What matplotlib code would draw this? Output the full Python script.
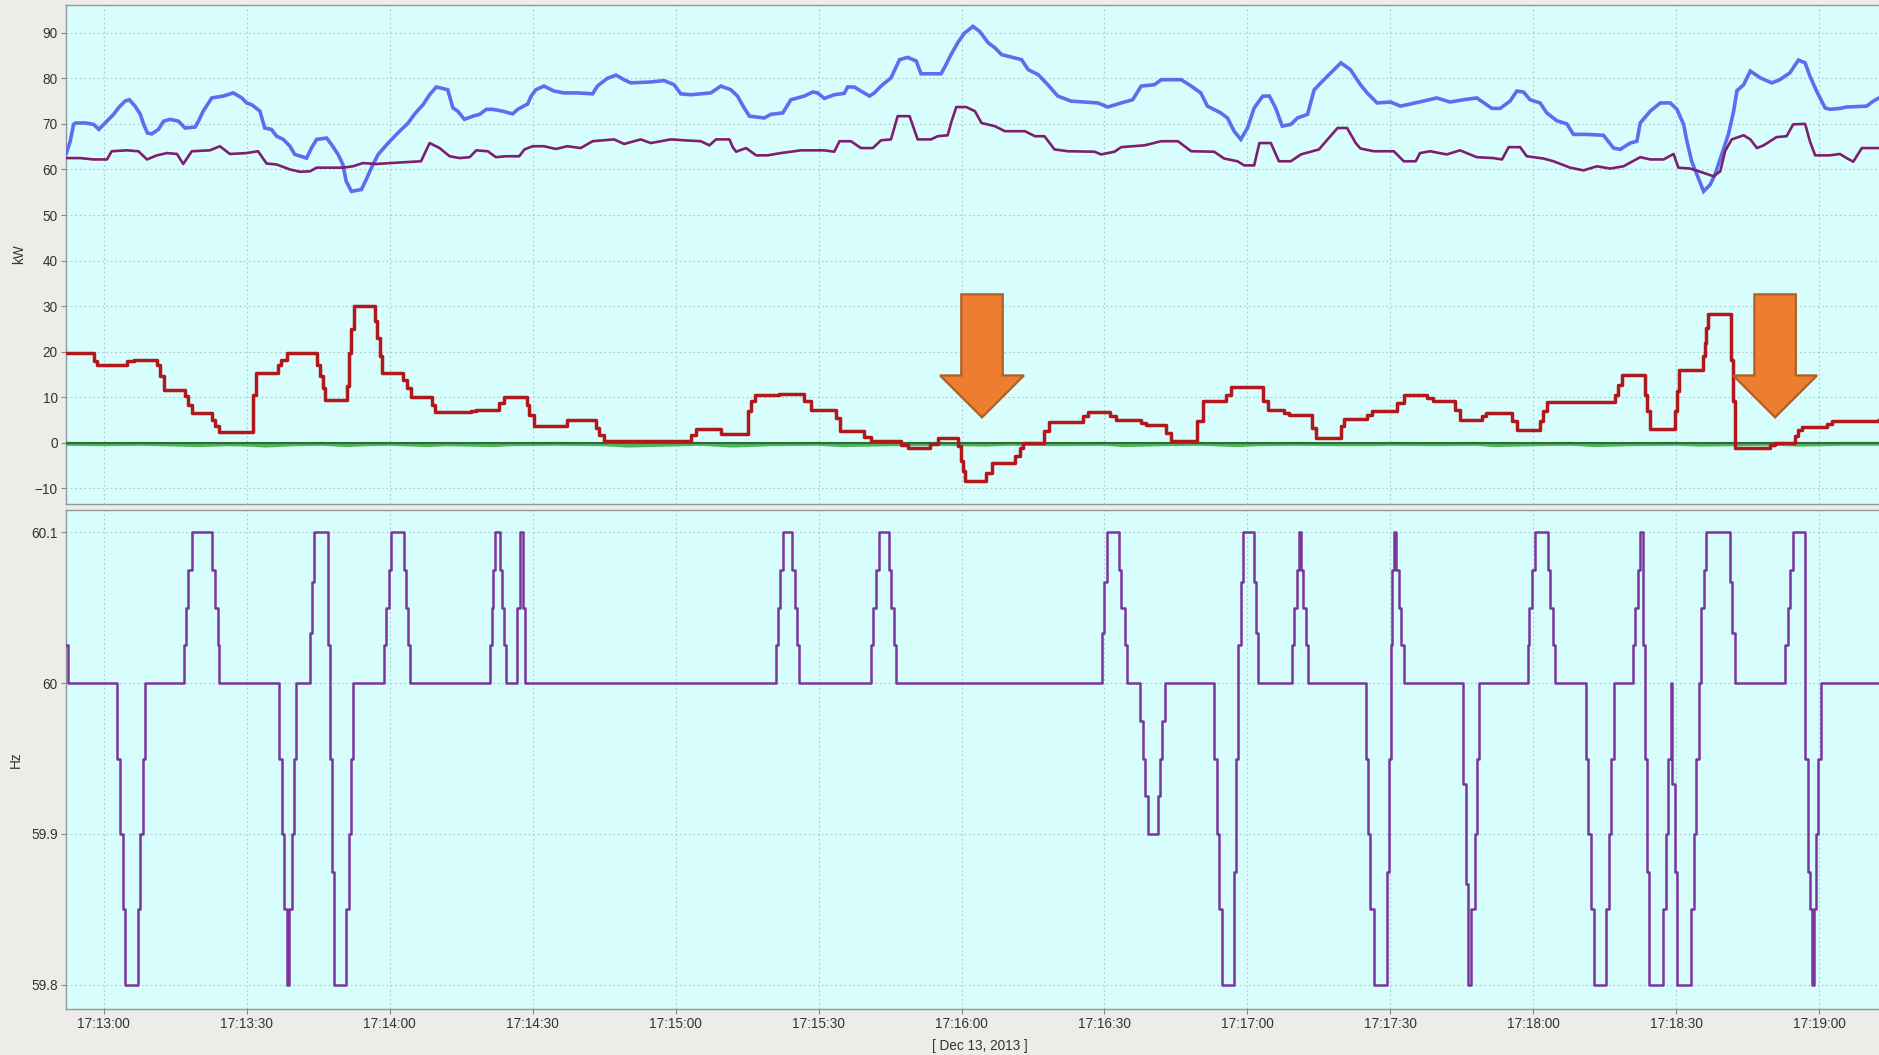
import matplotlib
matplotlib.use("Agg")
import matplotlib.pyplot as plt
from matplotlib.patches import Polygon
from matplotlib.ticker import FuncFormatter, MultipleLocator

plt.rcParams['font.family'] = ['Liberation Sans', 'DejaVu Sans']

# seconds after 17:13:00 on Dec 13, 2013
load_t = [-7.8, -7.0, -6.3, -5.9, -3.8, -2.1, -1.0, 2.1, 3.1, 4.5, 5.4, 6.6, 7.7, 8.4, 9.2, 10.1, 11.5, 12.6,
          14.0, 15.7, 17.1, 19.2, 19.9, 20.9, 22.7, 25.1, 27.2, 29.0, 30.0, 31.1, 32.8, 33.8, 35.2, 36.3, 37.7,
          39.1, 40.1, 42.6, 43.6, 44.7, 46.8, 47.8, 49.2, 50.2, 50.9, 52.0, 54.1, 55.1, 56.2, 57.6, 59.7, 62.1,
          63.9, 65.2, 67.0, 68.4, 69.8, 72.2, 73.3, 74.3, 75.7, 77.5, 78.9, 80.3, 81.6, 83.7, 85.8, 86.9, 89.0,
          89.7, 90.7, 92.4, 94.5, 96.6, 99.4, 102.6, 103.6, 105.7, 107.5, 109.2, 110.6, 114.8, 117.6, 119.7,
          121.1, 123.2, 127.4, 129.5, 131.6, 133.0, 134.4, 135.5, 138.6, 140.0, 142.5, 144.2, 147.0, 148.8,
          149.8, 151.2, 153.3, 155.4, 156.1, 157.5, 158.9, 160.7, 161.7, 163.1, 165.2, 167.0, 168.7, 170.5,
          171.5, 175.7, 176.4, 177.8, 179.2, 180.6, 182.4, 183.8, 185.6, 187.0, 188.4, 192.6, 194.0, 196.1,
          198.1, 200.2, 203.0, 208.6, 210.7, 213.5, 215.9, 217.7, 220.5, 221.9, 226.1, 228.2, 230.2, 231.6,
          234.4, 235.8, 237.2, 238.6, 240.0, 241.4, 243.2, 244.6, 245.9, 247.3, 249.1, 250.5, 252.6, 254.0,
          256.8, 259.6, 261.6, 263.7, 265.1, 267.2, 270.0, 272.1, 276.9, 279.7, 282.5, 285.3, 288.1, 291.3,
          293.0, 295.1, 296.5, 297.9, 299.3, 301.4, 302.8, 304.9, 307.0, 308.4, 311.2, 314.7, 316.8, 318.2,
          320.3, 321.7, 322.4, 324.5, 326.6, 328.7, 330.1, 331.5, 332.2, 333.2, 334.3, 335.7, 337.1, 338.1,
          339.5, 340.9, 342.0, 342.7, 344.1, 345.5, 347.6, 350.0, 351.7, 353.8, 355.6, 357.0, 358.0, 359.4,
          361.2, 362.2, 364.3, 365.7, 369.9, 371.3, 372.5]
load_kw = [63.6, 66.2, 69.9, 70.2, 70.2, 69.9, 68.8, 72.1, 73.5, 75.0, 75.3, 73.9, 72.1, 69.9, 68.0, 67.8, 68.8,
           70.6, 71.0, 70.6, 69.1, 69.3, 70.6, 72.8, 75.7, 76.1, 76.8, 75.7, 74.6, 74.2, 72.8, 69.1, 68.8, 67.3,
           66.6, 65.1, 63.3, 62.5, 64.7, 66.6, 66.9, 65.5, 63.3, 61.1, 57.4, 55.2, 55.6, 57.8, 60.4, 63.3, 65.8,
           68.4, 70.2, 72.1, 74.2, 76.4, 78.1, 77.5, 73.5, 72.8, 71.0, 71.7, 72.1, 73.2, 73.2, 72.8, 72.2, 73.2,
           74.4, 76.1, 77.5, 78.3, 77.2, 76.8, 76.8, 76.6, 78.3, 80.0, 80.7, 79.7, 79.0, 79.2, 79.5, 78.6, 76.6,
           76.4, 76.8, 78.3, 77.5, 76.1, 73.5, 71.7, 71.3, 72.1, 72.4, 75.3, 76.1, 77.0, 76.8, 75.6, 76.4, 76.7,
           78.1, 78.1, 77.2, 76.1, 76.8, 78.3, 80.1, 84.1, 84.6, 83.8, 81.0, 81.0, 82.3, 85.2, 87.8, 89.9, 91.4,
           90.3, 87.8, 86.7, 85.2, 84.1, 81.9, 80.8, 78.6, 76.1, 75.0, 74.6, 73.7, 74.6, 75.3, 78.3, 78.6, 79.7,
           79.7, 78.3, 76.8, 73.9, 72.4, 71.3, 68.4, 66.6, 69.1, 73.5, 76.1, 76.1, 73.5, 69.5, 69.9, 71.3, 72.1,
           77.5, 80.5, 83.4, 81.9, 78.6, 76.8, 74.6, 74.8, 73.9, 75.0, 75.7, 74.8, 75.3, 75.7, 73.4, 73.4, 75.0,
           77.2, 77.0, 75.3, 74.6, 72.4, 70.7, 70.0, 67.7, 67.7, 67.5, 64.7, 64.4, 65.8, 66.2, 70.2, 72.8, 74.6,
           74.6, 73.2, 69.9, 66.2, 61.8, 58.9, 55.2, 56.7, 58.9, 63.3, 67.7, 72.8, 77.3, 78.6, 81.6, 80.1, 79.0,
           79.7, 81.2, 84.0, 83.4, 80.5, 77.2, 73.5, 73.2, 73.4, 73.7, 73.9, 75.0, 75.7]

gen_t = [-7.8, -4.9, -2.1, 0.7, 1.7, 4.9, 7.3, 9.1, 11.2, 13.3, 15.4, 16.7, 18.5, 22.3, 24.4, 26.5, 30.0, 32.4,
         34.2, 36.3, 39.1, 41.2, 43.3, 44.7, 46.8, 50.2, 52.3, 54.4, 57.2, 60.0, 66.6, 68.4, 70.5, 72.6, 74.7,
         76.8, 78.2, 80.6, 82.3, 84.4, 87.2, 88.3, 90.0, 92.4, 94.9, 97.3, 100.1, 102.6, 107.1, 109.2, 112.7,
         114.8, 119.0, 121.8, 125.3, 127.1, 128.5, 131.3, 132.0, 132.7, 134.8, 136.9, 139.3, 142.1, 146.3,
         151.2, 153.3, 154.4, 156.8, 158.9, 161.4, 163.1, 165.2, 166.6, 169.1, 170.8, 173.6, 175.0, 177.1,
         177.8, 178.9, 181.0, 182.8, 184.2, 187.0, 189.1, 193.3, 195.4, 197.4, 199.5, 202.3, 207.9, 209.3,
         212.1, 213.5, 218.4, 221.9, 225.4, 228.2, 233.0, 235.1, 237.9, 239.3, 241.4, 242.5, 244.9, 246.6,
         249.1, 251.2, 255.0, 256.8, 258.9, 260.9, 262.7, 263.7, 266.5, 270.7, 272.8, 275.3, 276.2, 278.3,
         281.8, 284.6, 288.1, 291.6, 293.4, 294.8, 297.2, 298.6, 302.1, 304.2, 307.7, 310.5, 313.3, 316.1,
         318.9, 322.4, 324.5, 327.3, 329.4, 330.4, 332.9, 335.0, 337.8, 339.2, 340.2, 341.6, 344.1, 345.5,
         346.9, 348.3, 351.0, 353.1, 354.5, 357.0, 358.0, 359.1, 362.2, 364.3, 365.7, 367.1, 368.9, 372.5]
gen_kw = [62.5, 62.5, 62.2, 62.2, 64.0, 64.2, 64.0, 62.2, 63.1, 63.6, 63.4, 61.2, 64.0, 64.2, 65.1, 63.4, 63.6,
          64.0, 61.3, 61.1, 60.0, 59.5, 59.6, 60.4, 60.4, 60.4, 60.7, 61.4, 61.2, 61.4, 61.8, 65.8, 64.7, 62.9,
          62.5, 62.7, 64.2, 64.0, 62.7, 62.9, 62.9, 64.4, 65.1, 65.1, 64.5, 65.1, 64.7, 66.2, 66.6, 65.6, 66.6,
          65.8, 66.6, 66.4, 66.2, 65.3, 66.6, 66.6, 64.9, 63.9, 64.7, 63.1, 63.1, 63.6, 64.2, 64.2, 63.9, 66.2,
          66.2, 64.7, 64.7, 66.4, 66.6, 71.7, 71.7, 66.6, 66.6, 67.3, 67.5, 70.2, 73.7, 73.7, 72.8, 70.2, 69.5,
          68.4, 68.4, 67.3, 67.3, 64.4, 64.0, 63.9, 63.3, 63.9, 64.9, 65.3, 66.2, 66.2, 64.0, 63.9, 62.4, 61.8,
          60.9, 60.9, 65.8, 65.8, 61.8, 61.8, 63.3, 64.4, 66.6, 69.1, 69.1, 65.8, 64.6, 64.0, 64.0, 61.8, 61.8,
          63.6, 64.0, 63.3, 64.2, 62.7, 62.5, 62.2, 64.9, 64.9, 62.9, 62.4, 61.8, 60.4, 59.8, 60.7, 60.2, 60.7,
          62.7, 62.2, 62.2, 63.4, 60.4, 60.2, 59.5, 58.5, 59.6, 64.0, 66.6, 67.5, 66.6, 64.7, 65.3, 67.1, 67.3,
          69.9, 70.0, 66.2, 63.1, 63.1, 63.4, 62.5, 61.7, 64.7, 64.7]

# battery power, new level starting at each time
batt_t = [-7.9, -2.1, -1.4, 4.9, 6.3, 11.2, 11.9, 12.6, 17.1, 17.8, 18.5, 22.7, 23.4, 24.3, 31.4, 32.0, 36.6,
          37.3, 38.4, 44.7, 45.4, 46.1, 46.5, 51.1, 51.4, 52.0, 52.5, 56.9, 57.4, 57.9, 58.4, 62.9, 63.6, 64.5,
          68.9, 69.6, 77.1, 78.2, 82.9, 84.1, 88.8, 89.3, 90.3, 97.3, 103.3, 104.0, 104.9, 123.2, 124.3, 129.5,
          135.3, 135.8, 136.7, 141.8, 147.0, 148.4, 153.7, 154.4, 159.6, 161.0, 167.3, 168.7, 173.3, 175.0,
          179.2, 179.8, 180.3, 180.8, 185.2, 186.3, 191.2, 192.2, 192.9, 197.4, 198.3, 205.5, 206.5, 211.1,
          212.4, 217.7, 218.7, 222.9, 224.0, 229.5, 230.6, 235.5, 236.5, 243.2, 244.2, 247.7, 248.7, 253.6,
          254.3, 259.6, 260.3, 265.1, 266.2, 271.4, 272.8, 277.6, 279.0, 283.6, 284.6, 289.2, 290.1, 295.5,
          296.5, 301.4, 302.1, 302.8, 317.1, 317.8, 318.5, 323.4, 323.9, 324.5, 329.7, 330.2, 330.6, 335.5,
          335.9, 336.2, 336.6, 341.4, 341.8, 342.3, 349.7, 350.7, 354.9, 355.6, 356.3, 361.5, 362.6, 372.5]
batt_kw = [19.8, 17.9, 17.2, 17.9, 18.3, 17.2, 14.6, 11.7, 10.2, 8.4, 6.6, 5.1, 3.7, 2.4, 10.6, 15.4, 17.2,
           18.3, 19.8, 17.2, 14.6, 12.1, 9.5, 12.4, 19.8, 24.9, 30.0, 26.7, 23.0, 19.0, 15.4, 13.9, 12.1, 10.0,
           8.4, 6.7, 7.1, 7.3, 8.8, 10.0, 8.4, 6.2, 3.7, 5.1, 3.3, 1.7, 0.5, 1.8, 3.1, 2.0, 6.9, 9.1, 10.5, 10.8,
           9.1, 7.3, 5.5, 2.6, 1.2, 0.5, -0.4, -1.1, -0.2, 1.0, -0.7, -4.0, -6.2, -8.3, -6.6, -4.4, -2.9, -1.1,
           0.0, 2.6, 4.6, 5.9, 6.7, 5.9, 5.0, 4.4, 4.0, 2.2, 0.5, 4.8, 9.1, 10.6, 12.3, 9.1, 7.2, 6.6, 6.1, 3.3,
           1.1, 3.7, 5.3, 6.2, 7.0, 8.8, 10.5, 9.9, 9.1, 7.3, 5.1, 5.9, 6.6, 4.8, 2.9, 4.8, 6.9, 8.9, 10.6, 12.8,
           14.8, 10.6, 6.9, 3.1, 6.9, 11.3, 15.9, 19.0, 21.9, 25.2, 28.2, 18.3, 9.1, -1.1, -0.5, 0.0, 1.5, 2.9,
           3.4, 4.2, 4.9, 5.1]

solar_t = [-7.9, 0, 8, 20, 26, 31, 34, 40, 46, 51, 55, 60, 68, 72, 82, 85, 95, 105, 110, 118, 125, 132, 140,
           150, 155, 165, 175, 185, 190, 200, 210, 214, 222, 230, 238, 242, 250, 258, 266, 270, 280, 288, 292,
           300, 308, 313, 320, 330, 335, 342, 350, 356, 365, 372.5]
solar_kw = [-0.2, -0.3, -0.2, -0.5, -0.3, -0.4, -0.6, -0.3, -0.2, -0.5, -0.3, -0.2, -0.5, -0.3, -0.5, -0.3,
            -0.2, -0.3, -0.6, -0.4, -0.2, -0.6, -0.3, -0.2, -0.5, -0.3, -0.2, -0.4, -0.2, -0.3, -0.2, -0.5, -0.3,
            -0.2, -0.5, -0.3, -0.2, -0.3, -0.3, -0.2, -0.3, -0.2, -0.5, -0.3, -0.2, -0.5, -0.3, -0.2, -0.4,
            -0.3, -0.2, -0.4, -0.2, -0.2]
wind_t = [-7.9, 372.5]
wind_kw = [0.0, 0.0]

# grid frequency, new value starting at each time (one excursion per line)
freq_t = [-7.9, -7.5, 2.8, 3.5, 4.0, 4.4, 7.3, 7.7, 8.2, 8.6,
          16.8, 17.3, 17.8, 18.5, 22.8, 23.3, 23.9, 24.3,
          36.8, 37.4, 37.9, 38.4, 39.0, 39.6, 40.0, 40.4,
          43.2, 43.7, 44.1, 47.0, 47.4, 48.0, 48.4, 50.9, 51.4, 51.9, 52.4,
          58.9, 59.3, 59.8, 60.3, 63.0, 63.4, 63.8, 64.3,
          81.0, 81.4, 81.8, 82.2, 83.2, 83.6, 84.0, 84.4, 86.8, 87.3, 88.0, 88.5,
          141.0, 141.5, 142.0, 142.5, 144.5, 145.0, 145.5, 146.0,
          161.0, 161.5, 162.0, 162.6, 164.8, 165.3, 165.8, 166.3,
          209.5, 210.0, 210.5, 213.0, 213.5, 214.2, 214.7, 217.5, 218.0, 218.6, 219.1, 221.2, 221.7, 222.1, 222.6,
          233.0, 233.5, 234.0, 234.7, 237.2, 237.5, 238.1, 238.7, 239.1, 241.3, 241.8, 242.3,
          249.3, 249.8, 250.4, 250.9, 251.3, 251.7, 252.3, 252.8,
          264.8, 265.3, 265.8, 266.6, 269.3, 269.6, 270.1, 270.4, 270.7, 271.2, 271.7, 272.2, 272.9,
          285.3, 285.8, 286.3, 286.9, 287.7, 288.1, 288.6,
          298.9, 299.1, 299.6, 300.3, 303.0, 303.5, 304.1, 304.6,
          311.0, 311.5, 312.1, 312.6, 315.3, 315.8, 316.3, 316.8,
          320.8, 321.3, 321.9, 322.4, 322.9, 323.3, 323.8, 324.3, 327.2, 327.8, 328.3, 328.8, 329.1, 329.7, 330.1,
          333.1, 333.6, 334.2, 334.7, 335.2, 335.8, 336.3, 341.2, 341.7, 342.3,
          352.8, 353.4, 353.9, 354.4, 356.9, 357.6, 358.1, 358.4, 358.8, 359.3, 359.8, 360.4, 372.5]
freq_hz = [60.025, 60.0, 59.95, 59.9, 59.85, 59.8, 59.85, 59.9, 59.95, 60.0,
           60.025, 60.05, 60.075, 60.1, 60.075, 60.05, 60.025, 60.0,
           59.95, 59.9, 59.85, 59.8, 59.85, 59.9, 59.95, 60.0,
           60.033, 60.067, 60.1, 60.025, 59.95, 59.875, 59.8, 59.85, 59.9, 59.95, 60.0,
           60.025, 60.05, 60.075, 60.1, 60.075, 60.05, 60.025, 60.0,
           60.025, 60.05, 60.075, 60.1, 60.075, 60.05, 60.025, 60.0, 60.05, 60.1, 60.05, 60.0,
           60.025, 60.05, 60.075, 60.1, 60.075, 60.05, 60.025, 60.0,
           60.025, 60.05, 60.075, 60.1, 60.075, 60.05, 60.025, 60.0,
           60.033, 60.067, 60.1, 60.075, 60.05, 60.025, 60.0, 59.975, 59.95, 59.925, 59.9, 59.925, 59.95, 59.975,
           60.0,
           59.95, 59.9, 59.85, 59.8, 59.875, 59.95, 60.025, 60.067, 60.1, 60.067, 60.033, 60.0,
           60.025, 60.05, 60.075, 60.1, 60.075, 60.05, 60.025, 60.0,
           59.95, 59.9, 59.85, 59.8, 59.875, 59.95, 60.025, 60.075, 60.1, 60.075, 60.05, 60.025, 60.0,
           59.933, 59.867, 59.8, 59.85, 59.9, 59.95, 60.0,
           60.025, 60.05, 60.075, 60.1, 60.075, 60.05, 60.025, 60.0,
           59.95, 59.9, 59.85, 59.8, 59.85, 59.9, 59.95, 60.0,
           60.025, 60.05, 60.075, 60.1, 60.025, 59.95, 59.875, 59.8, 59.85, 59.9, 59.95, 60.0, 59.933, 59.875,
           59.8,
           59.85, 59.9, 59.95, 60.0, 60.05, 60.075, 60.1, 60.067, 60.033, 60.0,
           60.025, 60.05, 60.075, 60.1, 59.95, 59.875, 59.85, 59.8, 59.85, 59.9, 59.95, 60.0, 60.0]

# block arrows drawn over the battery trace
arrow_x = [184.3, 350.7]
arrow_top, arrow_neck, arrow_tip = 32.6, 14.8, 5.6
arrow_body_half, arrow_head_half = 4.35, 8.8

BG = '#EDECE9'
PANEL = '#D7FEFD'
GRID = '#AFC6C6'
EDGE = '#8E9A9A'
FS = 9.8

fig = plt.figure(figsize=(18.79, 10.55), dpi=100, facecolor=BG)
ax1 = fig.add_axes([0.0351, 0.5223, 0.9649, 0.4730])
ax2 = fig.add_axes([0.0351, 0.0436, 0.9649, 0.4730], sharex=ax1)

for ax in (ax1, ax2):
    ax.set_facecolor(PANEL)
    ax.grid(True, color=GRID, linestyle=(0, (1.5, 2.5)), linewidth=0.8)
    ax.set_axisbelow(True)
    for side in ('left', 'bottom', 'top'):
        ax.spines[side].set_color(EDGE)
        ax.spines[side].set_linewidth(1.0)
    ax.spines['right'].set_visible(False)
    ax.tick_params(axis='both', direction='out', length=3.5, width=0.8, color='#7F8C8C',
                   labelsize=FS, labelcolor='#333333', pad=2.5)

ax1.plot(load_t, load_kw, color='#5A6EF0', linewidth=2.6, solid_joinstyle='miter', zorder=3)
ax1.plot(gen_t, gen_kw, color='#7D1E6E', linewidth=1.9, zorder=3)
ax1.plot(solar_t, solar_kw, color='#35A83C', linewidth=2.8, alpha=0.85, zorder=3)
ax1.plot(wind_t, wind_kw, color='#2F6B3A', linewidth=1.5, zorder=3)
ax1.step(batt_t, batt_kw, where='post', color='#B2171C', linewidth=2.5, zorder=4)

for cx in arrow_x:
    pts = [(cx - arrow_body_half, arrow_top), (cx + arrow_body_half, arrow_top),
           (cx + arrow_body_half, arrow_neck), (cx + arrow_head_half, arrow_neck),
           (cx, arrow_tip), (cx - arrow_head_half, arrow_neck),
           (cx - arrow_body_half, arrow_neck)]
    ax1.add_patch(Polygon(pts, closed=True, facecolor='#ED7D31', edgecolor='#B35E22',
                          linewidth=1.6, zorder=6))

ax1.set_ylim(-13.4, 96.1)
ax1.yaxis.set_major_locator(MultipleLocator(10))
ax1.set_ylabel('kW', fontsize=FS, color='#333333')
ax1.yaxis.set_label_coords(-0.022, 0.5)
ax1.tick_params(axis='x', labelbottom=False, length=0)

ax2.step(freq_t, freq_hz, where='post', color='#7A349C', linewidth=1.8, zorder=3)
ax2.set_ylim(59.784, 60.1147)
ax2.set_yticks([59.8, 59.9, 60.0, 60.1])
ax2.yaxis.set_major_formatter(FuncFormatter(lambda v, p: f'{v:g}'))
ax2.set_ylabel('Hz', fontsize=FS, color='#333333')
ax2.yaxis.set_label_coords(-0.0236, 0.5)

ax2.set_xlim(-7.9, 372.5)
ax2.set_xticks(range(0, 361, 30))
ax2.xaxis.set_major_formatter(FuncFormatter(
    lambda s, p: f'17:{13 + int(s) // 60:02d}:{int(s) % 60:02d}'))
ax2.set_xlabel('[ Dec 13, 2013 ]', fontsize=FS, color='#333333')
ax2.xaxis.set_label_coords(0.504, -0.060)

fig.savefig('out.png', dpi=100, facecolor=BG)
